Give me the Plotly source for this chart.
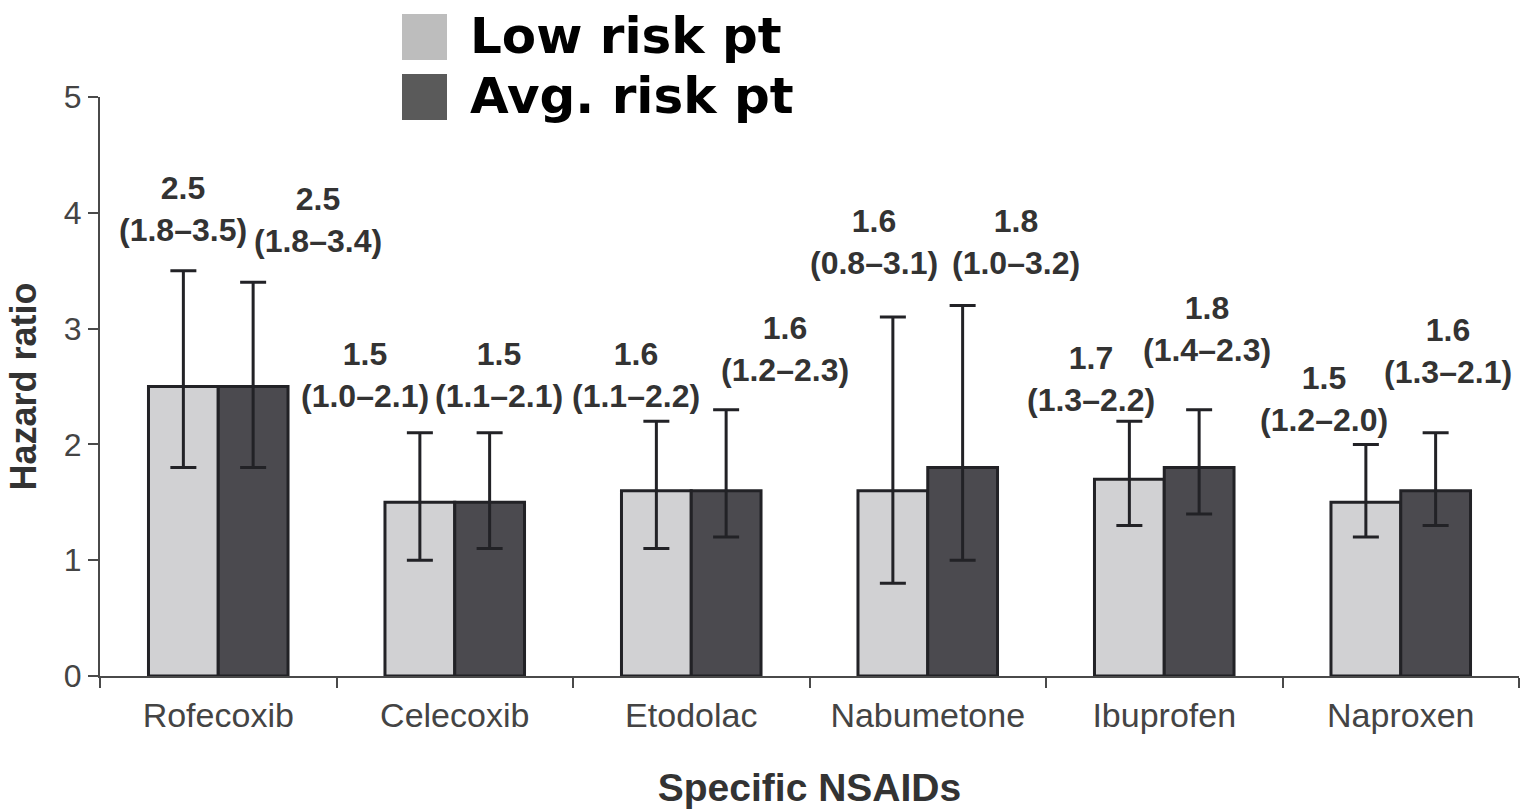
import plotly.graph_objects as go

# Hazard ratios (with 95% CI) for specific NSAIDs, by patient risk group
drugs = ["Rofecoxib", "Celecoxib", "Etodolac", "Nabumetone", "Ibuprofen", "Naproxen"]

low_hr = [2.5, 1.5, 1.6, 1.6, 1.7, 1.5]
low_ci_lo = [1.8, 1.0, 1.1, 0.8, 1.3, 1.2]
low_ci_hi = [3.5, 2.1, 2.2, 3.1, 2.2, 2.0]

avg_hr = [2.5, 1.5, 1.6, 1.8, 1.8, 1.6]
avg_ci_lo = [1.8, 1.1, 1.2, 1.0, 1.4, 1.3]
avg_ci_hi = [3.4, 2.1, 2.3, 3.2, 2.3, 2.1]

series_names = ["Low risk pt", "Avg. risk pt"]
y_ticks = [0, 1, 2, 3, 4, 5]

# figure geometry (pixels)
W, H = 1522, 809
ML, MR, MT, MB = 100, 3, 97, 133
PW, PH = W - ML - MR, H - MT - MB

LIGHT = "#d1d1d3"
DARK = "#4b4a4f"
EDGE = "#222226"
TEXT = "#333333"
AXIS = "#4a4a4a"


def px_to_paper_x(px):
    return (px - ML) / PW


def px_to_paper_y(py):
    return (H - MB - py) / PH


fig = go.Figure()

for name, hr, lo, hi, color in [
    (series_names[0], low_hr, low_ci_lo, low_ci_hi, LIGHT),
    (series_names[1], avg_hr, avg_ci_lo, avg_ci_hi, DARK),
]:
    fig.add_trace(go.Bar(
        name=name,
        x=drugs,
        y=hr,
        marker=dict(color=color, line=dict(color=EDGE, width=3)),
        error_y=dict(
            type="data",
            symmetric=False,
            array=[h - v for h, v in zip(hi, hr)],
            arrayminus=[v - l for v, l in zip(hr, lo)],
            color=EDGE,
            thickness=3,
            width=13,
        ),
        showlegend=False,
    ))

# value labels: "HR (lower–upper)" above each error bar
bar_px = PW / len(drugs) * 0.59 / 2          # width of a single bar in pixels
label_offsets = [  # (dx, dy) for low-risk, avg-risk labels per drug
    ((0, 62), (65, 62)),
    ((-55, 58), (9, 58)),
    ((-20, 46), (59, 61)),
    ((-19, 75), (53, 63)),
    ((-38, 42), (8, 81)),
    ((-42, 45), (12, 82)),
]
label_font = dict(family="Liberation Sans, Arial, sans-serif", size=32, color=TEXT, weight="bold")
for i, d in enumerate(drugs):
    for side, hr, lo, hi in [
        (0, low_hr, low_ci_lo, low_ci_hi),
        (1, avg_hr, avg_ci_lo, avg_ci_hi),
    ]:
        dx, dy = label_offsets[i][side]
        center = (-0.5 if side == 0 else 0.5) * bar_px
        fig.add_annotation(
            x=d, y=hi[i], xref="x", yref="y",
            text=f"{hr[i]:.1f}<br>({lo[i]:.1f}–{hi[i]:.1f})",
            showarrow=False,
            xanchor="center", yanchor="middle",
            xshift=center + dx, yshift=dy,
            font=label_font,
        )

# legend drawn as swatches and labels above the plot
legend_rows = [(14, 60, 36), (74, 120, 96)]
for (top, bottom, mid), name, color in zip(legend_rows, series_names, ["#bdbdbd", "#5a5a5a"]):
    fig.add_shape(
        type="rect", xref="paper", yref="paper",
        x0=px_to_paper_x(402), x1=px_to_paper_x(447),
        y0=px_to_paper_y(bottom), y1=px_to_paper_y(top),
        fillcolor=color, line=dict(width=0),
    )
    fig.add_annotation(
        x=px_to_paper_x(468), y=px_to_paper_y(mid), xref="paper", yref="paper",
        text=name, showarrow=False, xanchor="left", yanchor="middle",
        font=dict(family="DejaVu Sans, sans-serif", size=50, color="#000000", weight="bold"),
    )

fig.update_layout(
    width=W, height=H,
    margin=dict(l=ML, r=MR, t=MT, b=MB),
    paper_bgcolor="white",
    plot_bgcolor="white",
    barmode="group",
    bargap=0.41,
    bargroupgap=0,
    font=dict(family="Liberation Sans, Arial, sans-serif", color=TEXT),
)

fig.update_xaxes(
    showline=True, linecolor=AXIS, linewidth=2,
    ticks="outside", tickson="boundaries", ticklen=10, tickwidth=2, tickcolor=AXIS,
    tickfont=dict(size=34, color="#444444"),
    ticklabelstandoff=8,
    showgrid=False, zeroline=False,
    title=dict(text="Specific NSAIDs", standoff=44,
               font=dict(size=39, color=TEXT, weight="bold")),
)

fig.update_yaxes(
    range=[0, 5], tickvals=y_ticks,
    showline=True, linecolor=AXIS, linewidth=2,
    ticks="outside", ticklen=10, tickwidth=2, tickcolor=AXIS,
    tickfont=dict(size=32, color="#444444"),
    showgrid=False, zeroline=False,
    title=dict(text="Hazard ratio", standoff=16,
               font=dict(size=36, color=TEXT, weight="bold")),
)

fig.write_html("out.html")
